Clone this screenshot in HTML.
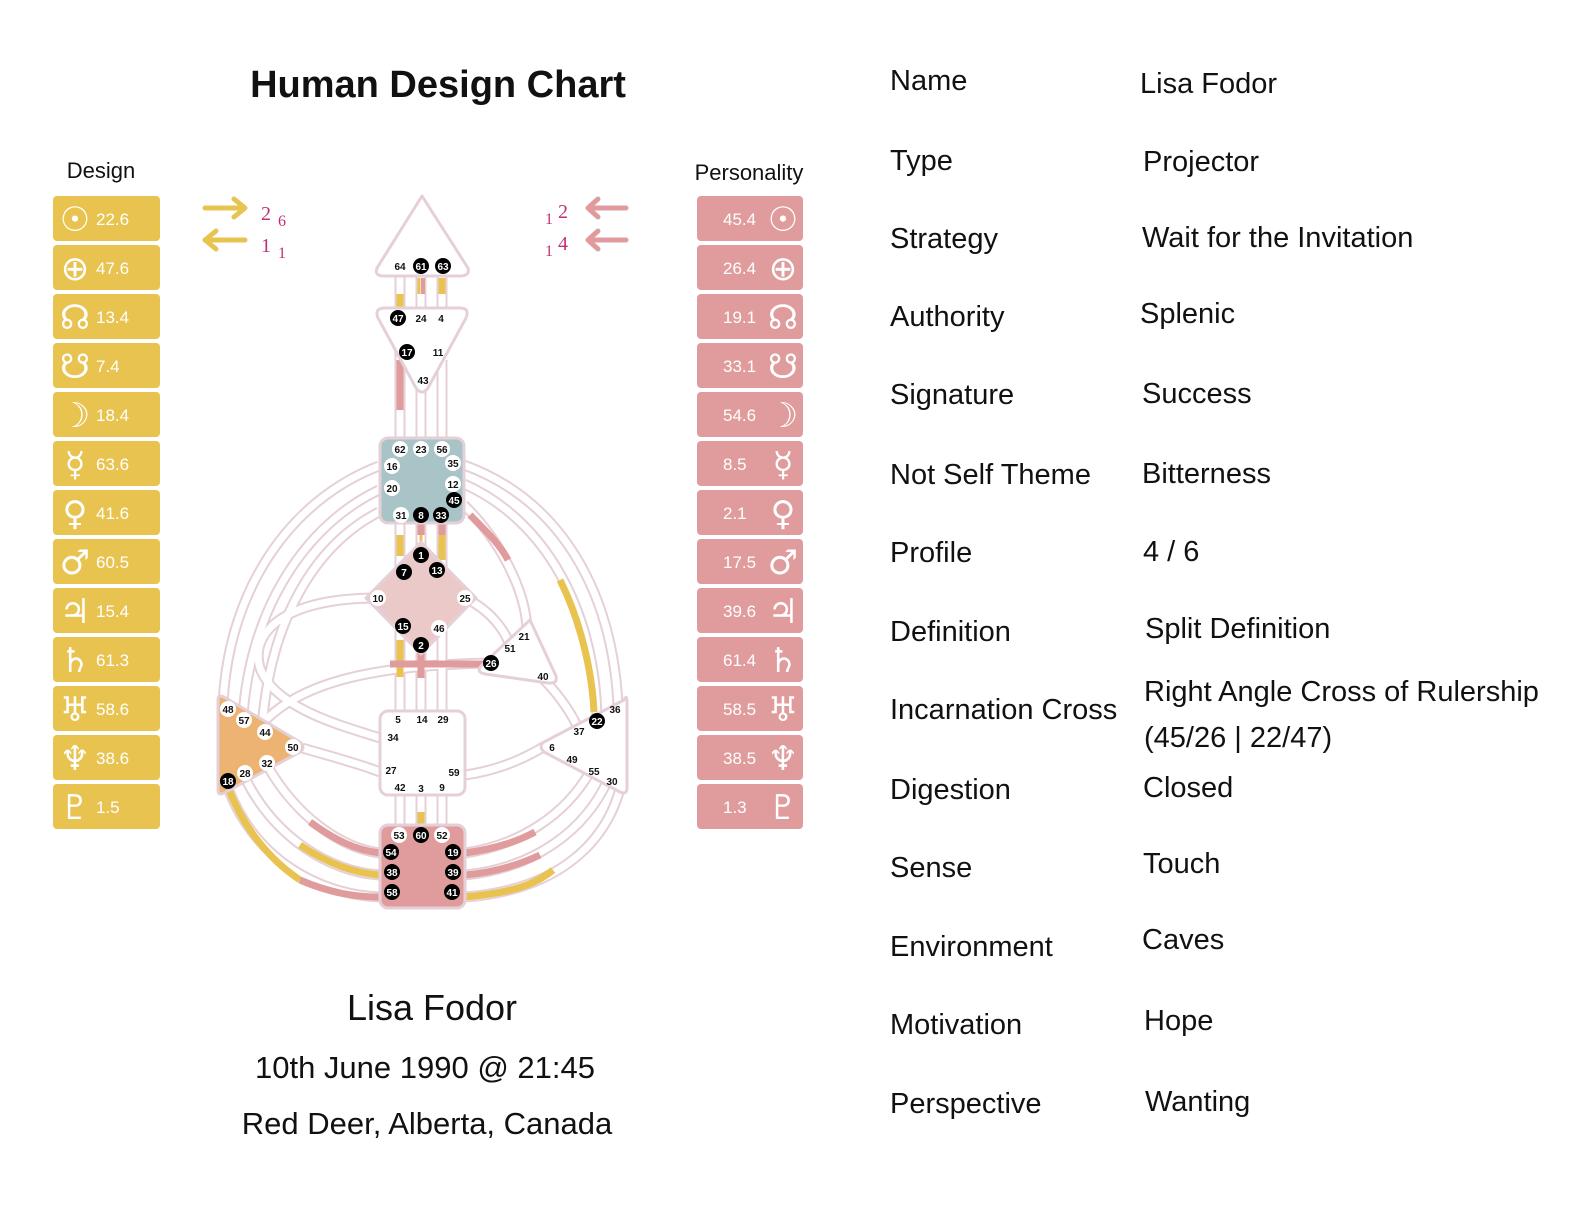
<!DOCTYPE html>
<html><head><meta charset="utf-8"><style>
body{margin:0;background:#fff;width:1570px;height:1206px;overflow:hidden;font-family:"Liberation Sans","DejaVu Sans",sans-serif}
</style></head><body>
<svg width="1570" height="1206" style="position:absolute;left:0;top:0" font-family="Liberation Sans, DejaVu Sans, sans-serif">
<text x="438" y="97" font-size="38" font-weight="bold" text-anchor="middle" fill="#111">Human Design Chart</text>
<text x="101" y="178" font-size="22" text-anchor="middle" fill="#111">Design</text>
<text x="749" y="180" font-size="22" text-anchor="middle" fill="#111">Personality</text>

<g font-size="17" fill="#fff">
<g fill="#e8c350">
<rect x="53" y="196" width="107" height="45" rx="4"/><rect x="53" y="245" width="107" height="45" rx="4"/><rect x="53" y="294" width="107" height="45" rx="4"/><rect x="53" y="343" width="107" height="45" rx="4"/><rect x="53" y="392" width="107" height="45" rx="4"/><rect x="53" y="441" width="107" height="45" rx="4"/><rect x="53" y="490" width="107" height="45" rx="4"/><rect x="53" y="539" width="107" height="45" rx="4"/><rect x="53" y="588" width="107" height="45" rx="4"/><rect x="53" y="637" width="107" height="45" rx="4"/><rect x="53" y="686" width="107" height="45" rx="4"/><rect x="53" y="735" width="107" height="45" rx="4"/><rect x="53" y="784" width="107" height="45" rx="4"/>
</g>
<g fill="#e09c9c">
<rect x="697" y="196" width="106" height="45" rx="4"/><rect x="697" y="245" width="106" height="45" rx="4"/><rect x="697" y="294" width="106" height="45" rx="4"/><rect x="697" y="343" width="106" height="45" rx="4"/><rect x="697" y="392" width="106" height="45" rx="4"/><rect x="697" y="441" width="106" height="45" rx="4"/><rect x="697" y="490" width="106" height="45" rx="4"/><rect x="697" y="539" width="106" height="45" rx="4"/><rect x="697" y="588" width="106" height="45" rx="4"/><rect x="697" y="637" width="106" height="45" rx="4"/><rect x="697" y="686" width="106" height="45" rx="4"/><rect x="697" y="735" width="106" height="45" rx="4"/><rect x="697" y="784" width="106" height="45" rx="4"/>
</g>
<g font-size="34" text-anchor="middle" font-family="DejaVu Sans, sans-serif">
<text x="75" y="231">☉</text><text x="75" y="280">⊕</text><text x="75" y="329">☊</text><text x="75" y="378">☋</text><text x="75" y="427">☽</text><text x="75" y="476">☿</text><text x="75" y="525">♀</text><text x="75" y="574">♂</text><text x="75" y="623">♃</text><text x="75" y="672">♄</text><text x="75" y="721">♅</text><text x="75" y="770">♆</text><text x="75" y="819">♇</text>
<text x="783" y="231">☉</text><text x="783" y="280">⊕</text><text x="783" y="329">☊</text><text x="783" y="378">☋</text><text x="783" y="427">☽</text><text x="783" y="476">☿</text><text x="783" y="525">♀</text><text x="783" y="574">♂</text><text x="783" y="623">♃</text><text x="783" y="672">♄</text><text x="783" y="721">♅</text><text x="783" y="770">♆</text><text x="783" y="819">♇</text>
</g>
<text x="96" y="225">22.6</text><text x="96" y="274">47.6</text><text x="96" y="323">13.4</text><text x="96" y="372">7.4</text><text x="96" y="421">18.4</text><text x="96" y="470">63.6</text><text x="96" y="519">41.6</text><text x="96" y="568">60.5</text><text x="96" y="617">15.4</text><text x="96" y="666">61.3</text><text x="96" y="715">58.6</text><text x="96" y="764">38.6</text><text x="96" y="813">1.5</text>
<text x="723" y="225">45.4</text><text x="723" y="274">26.4</text><text x="723" y="323">19.1</text><text x="723" y="372">33.1</text><text x="723" y="421">54.6</text><text x="723" y="470">8.5</text><text x="723" y="519">2.1</text><text x="723" y="568">17.5</text><text x="723" y="617">39.6</text><text x="723" y="666">61.4</text><text x="723" y="715">58.5</text><text x="723" y="764">38.5</text><text x="723" y="813">1.3</text>
</g>

<g stroke-width="5" fill="none" stroke-linecap="round" stroke-linejoin="round">
<path d="M205,208 H245 M234,199 L245,208 L234,217" stroke="#e8c350"/>
<path d="M245,240 H205 M216,231 L205,240 L216,249" stroke="#e8c350"/>
<path d="M626,208 H588 M598,199 L588,208 L598,217" stroke="#e09c9c"/>
<path d="M626,240 H588 M598,231 L588,240 L598,249" stroke="#e09c9c"/>
</g>
<g fill="#c0307a" font-size="20" font-family="Liberation Serif, serif">
<text x="261" y="220">2</text><text x="278" y="226" font-size="16">6</text>
<text x="261" y="252">1</text><text x="278" y="258" font-size="16">1</text>
<text x="545" y="224" font-size="16">1</text><text x="558" y="218">2</text>
<text x="545" y="256" font-size="16">1</text><text x="558" y="250">4</text>
</g>

<g fill="none" stroke-linecap="butt">
<g stroke="#e6d0d8" stroke-width="11">
<path d="M379,466 C 290,500 228,590 223,705"/>
<path d="M379,490 C 305,525 250,610 243,716"/>
<path d="M379,512 C 315,545 270,620 262,728"/>
<path d="M378,598 C 280,598 250,635 260,668 C 275,710 350,728 380,738"/>
<path d="M302,748 C 330,756 360,764 380,772"/>
<path d="M260,726 C 300,680 380,665 490,663"/>
<path d="M228,788 C 255,860 320,895 380,897"/>
<path d="M245,778 C 275,838 330,872 380,875"/>
<path d="M267,765 C 295,815 340,848 380,853"/>
<path d="M465,853 C 520,845 565,815 590,772"/>
<path d="M465,875 C 535,868 585,830 608,780"/>
<path d="M465,897 C 560,890 610,840 622,780"/>
<path d="M464,465 C 560,500 612,590 618,705"/>
<path d="M464,484 C 545,520 595,610 597,718"/>
<path d="M464,505 C 500,540 525,590 527,628"/>
<path d="M465,598 C 490,610 505,630 510,646"/>
<path d="M465,775 C 500,770 525,758 545,746"/>
<path d="M540,676 C 555,690 570,710 578,728"/>
<path d="M400,275 V310 M421,275 V310 M442,275 V310"/>
<path d="M400,340 V438 M421,390 V438 M442,360 V438"/>
<path d="M400,523 V575 M421,523 V550 M442,523 V575"/>
<path d="M400,630 V711 M421,645 V711 M442,630 V711"/>
<path d="M400,795 V825 M421,795 V825 M442,795 V825"/>
</g>
<g stroke="#fff" stroke-width="7">
<path d="M379,466 C 290,500 228,590 223,705"/>
<path d="M379,490 C 305,525 250,610 243,716"/>
<path d="M379,512 C 315,545 270,620 262,728"/>
<path d="M378,598 C 280,598 250,635 260,668 C 275,710 350,728 380,738"/>
<path d="M302,748 C 330,756 360,764 380,772"/>
<path d="M260,726 C 300,680 380,665 490,663"/>
<path d="M228,788 C 255,860 320,895 380,897"/>
<path d="M245,778 C 275,838 330,872 380,875"/>
<path d="M267,765 C 295,815 340,848 380,853"/>
<path d="M465,853 C 520,845 565,815 590,772"/>
<path d="M465,875 C 535,868 585,830 608,780"/>
<path d="M465,897 C 560,890 610,840 622,780"/>
<path d="M464,465 C 560,500 612,590 618,705"/>
<path d="M464,484 C 545,520 595,610 597,718"/>
<path d="M464,505 C 500,540 525,590 527,628"/>
<path d="M465,598 C 490,610 505,630 510,646"/>
<path d="M465,775 C 500,770 525,758 545,746"/>
<path d="M540,676 C 555,690 570,710 578,728"/>
<path d="M400,275 V310 M421,275 V310 M442,275 V310"/>
<path d="M400,340 V438 M421,390 V438 M442,360 V438"/>
<path d="M400,523 V575 M421,523 V550 M442,523 V575"/>
<path d="M400,630 V711 M421,645 V711 M442,630 V711"/>
<path d="M400,795 V825 M421,795 V825 M442,795 V825"/>
</g>
<g stroke-width="7">
<path d="M400,294 V310" stroke="#e8c350"/>
<path d="M419,278 V294" stroke="#e8c350" stroke-width="3"/><path d="M423,278 V294" stroke="#e09c9c" stroke-width="4"/>
<path d="M442,278 V294" stroke="#e8c350"/>
<path d="M400,360 V410" stroke="#e09c9c"/>
<path d="M400,535 V556" stroke="#e8c350"/>
<path d="M421,523 V535" stroke="#e09c9c"/><path d="M421,535 V548" stroke="#e8c350" stroke-width="3"/>
<path d="M442,523 V535" stroke="#e09c9c"/><path d="M442,535 V560" stroke="#e8c350"/>
<path d="M400,640 V677" stroke="#e8c350"/>
<path d="M421,650 V678" stroke="#e09c9c"/>
<path d="M421,812 V825" stroke="#e8c350"/>
<path d="M390,664 H485" stroke="#e09c9c"/>
<path d="M470,515 C 490,535 500,545 508,560" stroke="#e09c9c"/>
<path d="M560,580 C 580,620 592,670 594,712" stroke="#e8c350"/>
<path d="M228,788 C 245,830 270,860 300,880" stroke="#e8c350"/>
<path d="M300,880 C 330,893 355,897 380,897" stroke="#e09c9c"/>
<path d="M300,845 C 330,865 355,873 380,875" stroke="#e8c350"/>
<path d="M310,822 C 335,840 355,850 380,853" stroke="#e09c9c"/>
<path d="M465,853 C 500,848 520,840 535,832" stroke="#e09c9c"/>
<path d="M465,875 C 500,872 525,862 540,855" stroke="#e09c9c"/>
<path d="M465,897 C 510,893 535,885 553,870" stroke="#e8c350"/>
</g>
</g>

<g stroke="#e6d0d8" stroke-width="3" stroke-linejoin="round">
<path d="M422,196 L468,268 Q470,276 460,276 L384,276 Q374,276 377,268 Z" fill="#fff"/>
<path d="M385,308 L460,308 Q470,308 466,318 L428,388 Q422,396 416,388 L378,318 Q374,308 385,308 Z" fill="#fff"/>
<rect x="380" y="438" width="84" height="85" rx="8" fill="#a9c4c7"/>
<path d="M421,542 L476,598 L421,654 L366,598 Z" fill="#ecc9c9"/>
<path d="M530,620 L556,676 Q558,684 548,683 L485,674 Q475,672 482,665 Z" fill="#fff"/>
<rect x="380" y="711" width="85" height="84" rx="8" fill="#fff"/>
<path d="M218,700 Q218,694 224,697 L300,742 Q306,748 300,752 L224,793 Q218,796 218,790 Z" fill="#ecb372"/>
<path d="M624,700 Q627,694 627,702 L627,788 Q627,795 620,792 L544,752 Q538,746 544,742 Z" fill="#fff"/>
<rect x="380" y="825" width="85" height="83" rx="8" fill="#e09c9c"/>
</g>

<g font-size="10" font-weight="bold" text-anchor="middle">
<g fill="#fff">
<circle cx="400" cy="449" r="8"/><circle cx="421" cy="449" r="8"/><circle cx="442" cy="449" r="8"/><circle cx="392" cy="466" r="8"/><circle cx="392" cy="488" r="8"/><circle cx="453" cy="463" r="8"/><circle cx="453" cy="484" r="8"/><circle cx="401" cy="515" r="8"/>
<circle cx="378" cy="598" r="8"/><circle cx="465" cy="598" r="8"/><circle cx="439" cy="628" r="8"/>
<circle cx="228" cy="709" r="8"/><circle cx="244" cy="720" r="8"/><circle cx="265" cy="732" r="8"/><circle cx="293" cy="747" r="8"/><circle cx="267" cy="763" r="8"/><circle cx="245" cy="773" r="8"/>
<circle cx="399" cy="835" r="8"/><circle cx="442" cy="835" r="8"/>
</g>
<g fill="#000">
<circle cx="421" cy="266" r="8"/><circle cx="443" cy="266" r="8"/><circle cx="398" cy="318" r="8"/><circle cx="407" cy="352" r="8"/>
<circle cx="454" cy="500" r="8"/><circle cx="421" cy="515" r="8"/><circle cx="441" cy="515" r="8"/>
<circle cx="421" cy="555" r="8"/><circle cx="404" cy="572" r="8"/><circle cx="437" cy="570" r="8"/><circle cx="403" cy="626" r="8"/><circle cx="421" cy="645" r="8"/>
<circle cx="491" cy="663" r="8"/><circle cx="597" cy="721" r="8"/><circle cx="228" cy="781" r="8"/>
<circle cx="421" cy="835" r="8"/><circle cx="391" cy="852" r="8"/><circle cx="392" cy="872" r="8"/><circle cx="392" cy="892" r="8"/><circle cx="453" cy="852" r="8"/><circle cx="453" cy="872" r="8"/><circle cx="452" cy="892" r="8"/>
</g>
<g fill="#111">
<text x="400" y="270">64</text><text x="421" y="322">24</text><text x="441" y="322">4</text><text x="438" y="356">11</text><text x="423" y="384">43</text>
<text x="400" y="453">62</text><text x="421" y="453">23</text><text x="442" y="453">56</text><text x="392" y="470">16</text><text x="392" y="492">20</text><text x="453" y="467">35</text><text x="453" y="488">12</text><text x="401" y="519">31</text>
<text x="378" y="602">10</text><text x="465" y="602">25</text><text x="439" y="632">46</text>
<text x="524" y="640">21</text><text x="510" y="652">51</text><text x="543" y="680">40</text>
<text x="398" y="723">5</text><text x="422" y="723">14</text><text x="443" y="723">29</text><text x="393" y="741">34</text><text x="391" y="774">27</text><text x="454" y="776">59</text><text x="400" y="791">42</text><text x="421" y="792">3</text><text x="442" y="791">9</text>
<text x="228" y="713">48</text><text x="244" y="724">57</text><text x="265" y="736">44</text><text x="293" y="751">50</text><text x="267" y="767">32</text><text x="245" y="777">28</text>
<text x="615" y="713">36</text><text x="579" y="735">37</text><text x="552" y="751">6</text><text x="572" y="763">49</text><text x="594" y="775">55</text><text x="612" y="785">30</text>
<text x="399" y="839">53</text><text x="442" y="839">52</text>
</g>
<g fill="#fff">
<text x="421" y="270">61</text><text x="443" y="270">63</text><text x="398" y="322">47</text><text x="407" y="356">17</text>
<text x="454" y="504">45</text><text x="421" y="519">8</text><text x="441" y="519">33</text>
<text x="421" y="559">1</text><text x="404" y="576">7</text><text x="437" y="574">13</text><text x="403" y="630">15</text><text x="421" y="649">2</text>
<text x="491" y="667">26</text><text x="597" y="725">22</text><text x="228" y="785">18</text>
<text x="421" y="839">60</text><text x="391" y="856">54</text><text x="392" y="876">38</text><text x="392" y="896">58</text><text x="453" y="856">19</text><text x="453" y="876">39</text><text x="452" y="896">41</text>
</g>
</g>

<g fill="#111" text-anchor="middle">
<text x="432" y="1020" font-size="36">Lisa Fodor</text>
<text x="425" y="1078" font-size="31">10th June 1990 @ 21:45</text>
<text x="427" y="1134" font-size="31">Red Deer, Alberta, Canada</text>
</g>
<g fill="#111" font-size="29">
<text x="890" y="90">Name</text><text x="1140" y="93">Lisa Fodor</text>
<text x="890" y="170">Type</text><text x="1143" y="171">Projector</text>
<text x="890" y="248">Strategy</text><text x="1142" y="247">Wait for the Invitation</text>
<text x="890" y="326">Authority</text><text x="1140" y="323">Splenic</text>
<text x="890" y="404">Signature</text><text x="1142" y="403">Success</text>
<text x="890" y="484">Not Self Theme</text><text x="1142" y="483">Bitterness</text>
<text x="890" y="562">Profile</text><text x="1143" y="561">4 / 6</text>
<text x="890" y="641">Definition</text><text x="1145" y="638">Split Definition</text>
<text x="890" y="719">Incarnation Cross</text><text x="1144" y="701">Right Angle Cross of Rulership</text><text x="1144" y="747">(45/26 | 22/47)</text>
<text x="890" y="799">Digestion</text><text x="1143" y="797">Closed</text>
<text x="890" y="877">Sense</text><text x="1143" y="873">Touch</text>
<text x="890" y="956">Environment</text><text x="1142" y="949">Caves</text>
<text x="890" y="1034">Motivation</text><text x="1144" y="1030">Hope</text>
<text x="890" y="1113">Perspective</text><text x="1145" y="1111">Wanting</text>
</g>
</svg>
</body></html>
